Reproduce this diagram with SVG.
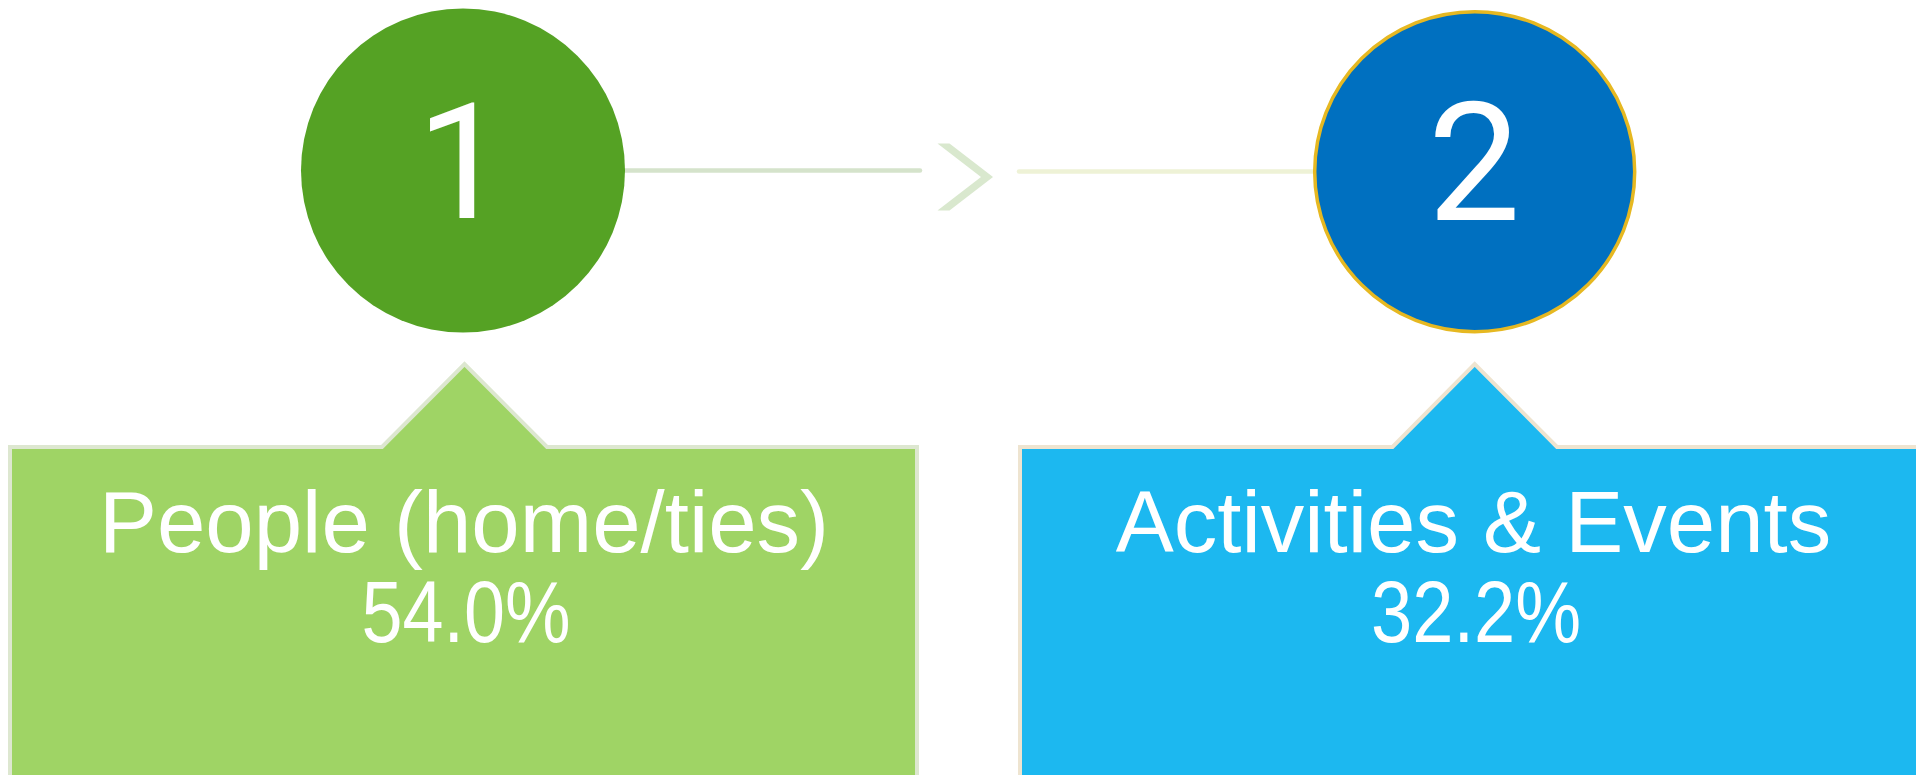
<svg xmlns="http://www.w3.org/2000/svg" width="1916" height="775" viewBox="0 0 1916 775">
<style>
.num{font-family:Roboto,"Liberation Sans",Arial,sans-serif;fill:#ffffff;text-anchor:middle}
.lbl{font-family:"Liberation Sans",Arial,sans-serif;fill:#ffffff;text-anchor:middle;font-size:87px}
.conn{fill:none;stroke-width:4.5;stroke-linecap:round}
</style>
<rect width="1916" height="775" fill="#ffffff"/>
<g id="connectors">
<line class="conn" x1="620" y1="170.5" x2="920" y2="170.5" stroke="#D5E3CB"/>
<polygon points="937.5,143.5 949.5,143.5 993,177 949.5,210.5 937.5,210.5 981,177" fill="#D9E8CE"/>
<line class="conn" x1="1019" y1="171.5" x2="1316" y2="171.5" stroke="#EEF2D6"/>
</g>
<g id="node-1">
<circle cx="463" cy="170.5" r="162" fill="#55A224"/>
<text class="num" x="462" y="218.3" font-size="162">1</text>
</g>
<g id="node-2">
<circle cx="1474.7" cy="171.7" r="160" fill="#0070C0" stroke="#E6B821" stroke-width="3.5"/>
<text class="num" x="1474" y="220" font-size="165">2</text>
</g>
<g id="callout-1">
<path d="M10,785 L10,447 L382,447 L464.5,364 L547,447 L917,447 L917,785 Z" fill="#9FD465" stroke="#DDE7D0" stroke-width="4"/>
<text class="lbl" x="464" y="551.7">People (home/ties)</text>
<text class="lbl" x="466" y="642" textLength="209" lengthAdjust="spacingAndGlyphs">54.0%</text>
</g>
<g id="callout-2">
<path d="M1020,785 L1020,447 L1392.5,447 L1474.7,364 L1557,447 L1925,447 L1925,785 Z" fill="#1CB8F0" stroke="#EEE4D0" stroke-width="4"/>
<text class="lbl" x="1473.5" y="551.7">Activities &amp; Events</text>
<text class="lbl" x="1476" y="642" textLength="210" lengthAdjust="spacingAndGlyphs">32.2%</text>
</g>
</svg>
